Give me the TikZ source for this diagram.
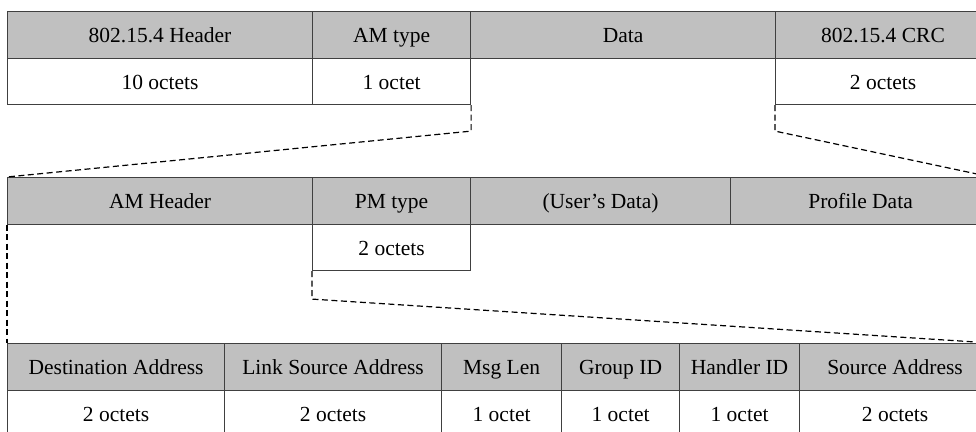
\documentclass[tikz,border=0pt]{standalone}
\usepackage{fontspec}
\setmainfont{Liberation Serif}
\definecolor{cellgray}{HTML}{C0C0C0}
\definecolor{rule}{HTML}{404040}
\begin{document}
\begin{tikzpicture}[x=1pt,y=-1pt,
  cell/.style={draw=rule, line width=1.1pt, rectangle, inner sep=0pt,
    anchor=north west, minimum height=46.5pt,
    text height=17pt, text depth=1.5pt,
    font=\fontsize{21.5}{25}\selectfont},
  hcell/.style={cell, fill=cellgray},
  wcell/.style={cell, fill=white},
  link/.style={draw=black, line width=1.2pt, dash pattern=on 6pt off 3.5pt}]
\useasboundingbox (0,0) rectangle (976,431);
\clip (0,0) rectangle (976,431);

% IEEE 802.15.4 frame
\node[hcell, minimum width=305pt] (mach)  at (7,11)  {802.15.4 Header};
\node[hcell, minimum width=158pt] (amt)   at (312,11) {AM type};
\node[hcell, minimum width=305pt] (data)  at (470,11) {Data};
\node[hcell, minimum width=215pt] (crc)   at (775,11) {802.15.4 CRC};
\node[wcell, minimum width=305pt] (machw) at (7,57.5)  {10 octets};
\node[wcell, minimum width=158pt] (amtw)  at (312,57.5) {1 octet};
\node[wcell, minimum width=215pt] (crcw)  at (775,57.5) {2 octets};

% Active message payload
\node[hcell, minimum width=305pt] (amh)  at (7,177)   {AM Header};
\node[hcell, minimum width=158pt] (pmt)  at (312,177) {PM type};
\node[hcell, minimum width=260pt] (usr)  at (470,177) {(User’s Data)};
\node[hcell, minimum width=260pt] (prof) at (730,177) {Profile Data};
\node[wcell, minimum width=158pt] (pmtw) at (312,223.5) {2 octets};

% AM header fields
\node[hcell, minimum width=217pt] (dst)  at (7,343)   {Destination Address};
\node[hcell, minimum width=217pt] (lsrc) at (224,343) {Link Source Address};
\node[hcell, minimum width=120pt] (len)  at (441,343) {Msg Len};
\node[hcell, minimum width=118pt] (grp)  at (561,343) {Group ID};
\node[hcell, minimum width=120pt] (hid)  at (679,343) {Handler ID};
\node[hcell, minimum width=191pt] (src)  at (799,343) {Source Address};
\node[wcell, minimum width=217pt] (dstw)  at (7,389.5)   {2 octets};
\node[wcell, minimum width=217pt] (lsrcw) at (224,389.5) {2 octets};
\node[wcell, minimum width=120pt] (lenw)  at (441,389.5) {1 octet};
\node[wcell, minimum width=118pt] (grpw)  at (561,389.5) {1 octet};
\node[wcell, minimum width=120pt] (hidw)  at (679,389.5) {1 octet};
\node[wcell, minimum width=191pt] (srcw)  at (799,389.5) {2 octets};

% expansion guides (positive page y is upward, hence the negative shifts)
\coordinate (d1) at ([yshift=-26pt]amtw.south east);
\coordinate (d2) at ([yshift=-26pt]crcw.south west);
\coordinate (d3) at ([yshift=-28pt]pmtw.south west);
\draw[link] (amtw.south east) -- (d1) -- (amh.north west);
\draw[link] (crcw.south west) -- (d2) -- (prof.north east);
\draw[link] (amh.south west) -- (dst.north west);
\draw[link] (pmtw.south west) -- (d3) -- (src.north east);
\end{tikzpicture}
\end{document}
